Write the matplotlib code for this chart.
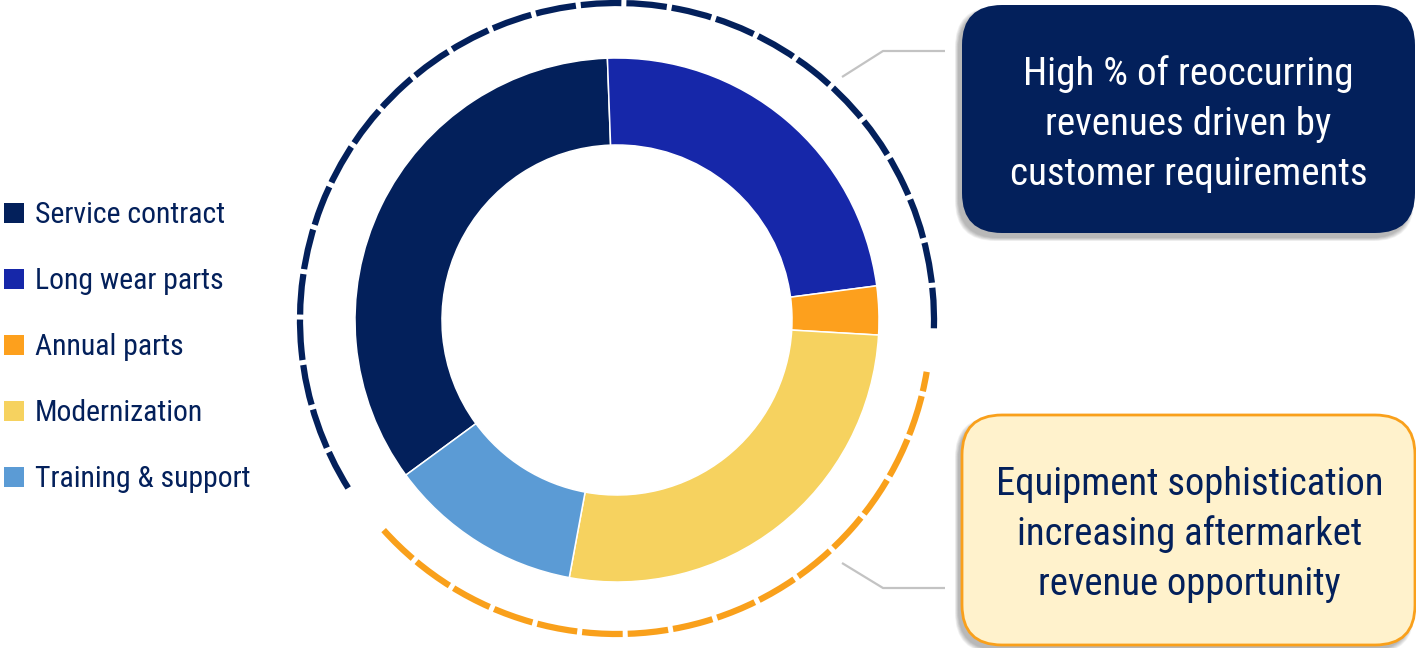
import os
import matplotlib
matplotlib.use("Agg")
import matplotlib.pyplot as plt
from matplotlib import font_manager
from matplotlib.font_manager import FontProperties
from matplotlib.patches import FancyBboxPatch, Arc, Rectangle

# ---- data -------------------------------------------------------------
categories = ["Service contract", "Long wear parts", "Annual parts",
              "Modernization", "Training & support"]
shares = [34.5, 23.5, 3.0, 27.0, 12.0]
colors = ["#03205b", "#1627a9", "#fda01d", "#f6d25f", "#5b9bd5"]

recurring = ["Service contract", "Long wear parts", "Annual parts"]
callout_top = ["High % of reoccurring", "revenues driven by",
               "customer requirements"]
callout_bottom = ["Equipment sophistication", "increasing aftermarket",
                  "revenue opportunity"]

NAVY = "#03205b"
ORANGE = "#f9a01b"
CREAM = "#fff2cc"
GREY = "#c3c3c3"

# ---- canvas in pixel units (y measured from the top) -------------------
W, H = 1416, 648
fig = plt.figure(figsize=(W / 100, H / 100), dpi=100)
ax = fig.add_axes([0, 0, 1, 1])


def Y(y):
    return H - y


def condensed_font():
    files = {os.path.basename(f.fname): f.fname
             for f in font_manager.fontManager.ttflist}
    prefs = ["NotoSans-ExtraCondensed.ttf", "NotoSans-Condensed.ttf",
             "RobotoCondensed-Regular.ttf", "RobotoCondensed-Medium.ttf",
             "LiberationSansNarrow-Regular.ttf", "DejaVuSansCondensed.ttf"]
    for p in prefs:
        if p in files:
            return FontProperties(fname=files[p])
    return FontProperties(family="DejaVu Sans", stretch="condensed")


FONT = condensed_font()
renderer = fig.canvas.get_renderer()


def fit_size(lines, target_w):
    longest = 0
    for s in lines:
        t = ax.text(0, 0, s, fontproperties=FONT, fontsize=20)
        longest = max(longest, t.get_window_extent(renderer).width)
        t.remove()
    return 20 * target_w / longest


# ---- donut ------------------------------------------------------------
cx, cy = 617, Y(320)
r_out, r_in = 262, 175
start = 216.3
ax.pie(shares, colors=colors, startangle=start, counterclock=False,
       center=(cx, cy), radius=r_out,
       wedgeprops=dict(width=r_out - r_in, edgecolor="white", linewidth=1.1))

# bracket arcs around the recurring and the one-off groups
n_rec = len(recurring)
split = start - 360 * sum(shares[:n_rec]) / sum(shares)
ax.add_patch(Arc((cx, cy), 2 * 317, 2 * 317, theta1=split + 1.8,
                 theta2=start - 4.0, color=NAVY, lw=4.5,
                 linestyle=(0, (6.5, 0.8))))
ax.add_patch(Arc((cx, cy), 2 * 314, 2 * 314, theta1=start - 360 + 5.7,
                 theta2=split - 6.2, color=ORANGE, lw=4.5,
                 linestyle=(0, (6.5, 0.8))))

# ---- legend -----------------------------------------------------------
leg_size = fit_size(["Training & support"], 215)
for i, (name, col) in enumerate(zip(categories, colors)):
    base = 223 + 66 * i
    ax.add_patch(Rectangle((4, Y(base)), 20, 20, facecolor=col,
                           edgecolor="none"))
    ax.text(35, Y(base), name, fontproperties=FONT, fontsize=leg_size,
            color=NAVY, ha="left", va="baseline")

# ---- callouts ---------------------------------------------------------
def callout(x0, y0, x1, y1, face, edge, lw):
    w, h = x1 - x0, y1 - y0
    for k in range(6):
        ax.add_patch(FancyBboxPatch(
            (x0 - 4 - k * 0.6, Y(y1) - 5 - k * 0.6), w + k * 1.2, h + k * 1.2,
            boxstyle="round,pad=0,rounding_size=40", facecolor="#000000",
            edgecolor="none", alpha=0.05))
    ax.add_patch(FancyBboxPatch((x0, Y(y1)), w, h,
                                boxstyle="round,pad=0,rounding_size=40",
                                facecolor=face, edgecolor=edge, linewidth=lw))


callout(962, 5, 1415, 233, NAVY, NAVY, 0)
callout(962, 415, 1415, 645, CREAM, ORANGE, 2.0)

top_size = fit_size(callout_top, 357)
for i, s in enumerate(callout_top):
    ax.text(1188.5, Y(85 + 50 * i), s, fontproperties=FONT, fontsize=top_size,
            color="white", ha="center", va="baseline")

bot_size = fit_size(callout_bottom, 387)
for i, s in enumerate(callout_bottom):
    ax.text(1189.5, Y(495 + 50 * i), s, fontproperties=FONT, fontsize=bot_size,
            color=NAVY, ha="center", va="baseline")

# connector lines
ax.plot([842, 883, 945], [Y(77), Y(51), Y(51)], color=GREY, lw=1.6,
        solid_capstyle="butt")
ax.plot([842, 883, 945], [Y(563), Y(588), Y(588)], color=GREY, lw=1.6,
        solid_capstyle="butt")

ax.set_xlim(0, W)
ax.set_ylim(0, H)
ax.set_aspect("equal")
ax.axis("off")
fig.savefig("out.png", dpi=100, facecolor="white")
